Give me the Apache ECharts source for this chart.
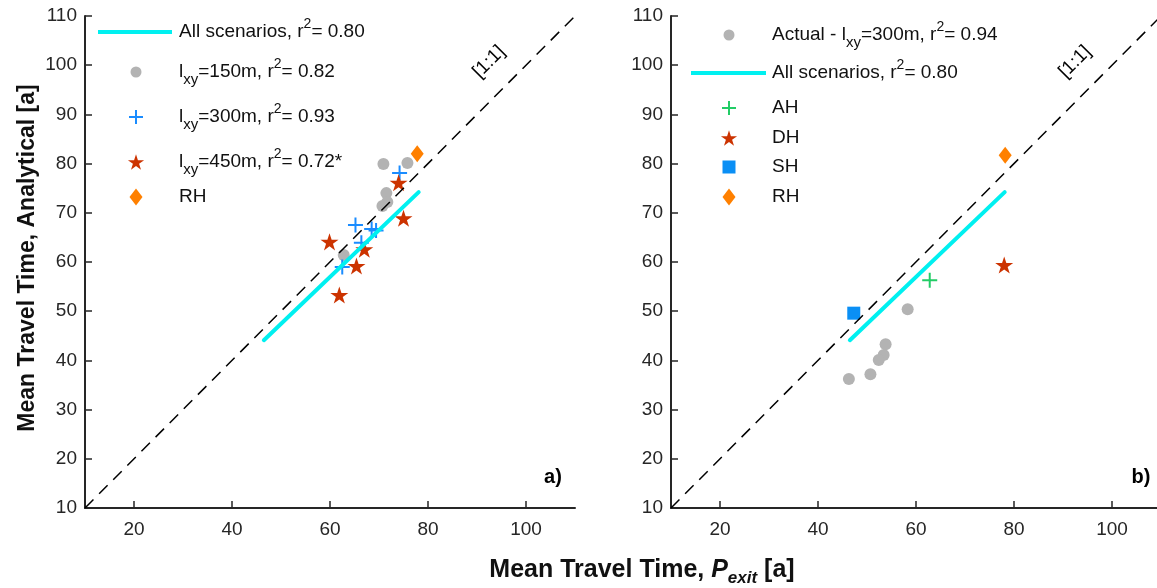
<!DOCTYPE html>
<html><head><meta charset="utf-8">
<script src="https://cdn.jsdelivr.net/npm/echarts@6/dist/echarts.min.js"></script>
<style>html,body{margin:0;padding:0;background:#fff}#c{width:1157px;height:588px}</style>
</head><body><div id="c"></div>
<script>
// ---- data ----
const xTicks = [20, 40, 60, 80, 100];
const identityLine = [[10, 10], [110, 110]];
const fitAll = [[46.5, 44.1], [78.1, 74.2]];
// panel a)
const ixy150 = [[70.9, 79.9], [75.8, 80.1], [71.5, 74.0], [71.7, 72.2], [70.7, 71.4], [62.8, 61.4]];
const ixy300 = [[65.2, 67.5], [68.5, 66.7], [69.4, 66.4], [66.4, 63.9], [62.5, 59.0], [74.2, 78.1]];
const ixy450 = [[74.0, 76.1], [75.0, 68.9], [59.9, 64.1], [67.0, 62.6], [65.4, 59.2], [61.9, 53.3]];
const rhA = [[77.8, 82.0]];
// panel b)
const actual300 = [[58.3, 50.4], [53.8, 43.3], [53.4, 41.1], [52.4, 40.1], [50.7, 37.2], [46.3, 36.2]];
const ahB = [[62.8, 56.3]];
const dhB = [[78.0, 59.4]];
const shB = [[47.3, 49.6]];
const rhB = [[78.2, 81.7]];

// legend texts
const legendA = ['All scenarios, r{sup|2}= 0.80', 'l{sub|xy}=150m, r{sup|2}= 0.82', 'l{sub|xy}=300m, r{sup|2}= 0.93', 'l{sub|xy}=450m, r{sup|2}= 0.72*', 'RH'];
const legendB = ['Actual - l{sub|xy}=300m, r{sup|2}= 0.94', 'All scenarios, r{sup|2}= 0.80', 'AH', 'DH', 'SH', 'RH'];

// ---- styles ----
const FONT = '"Liberation Sans", Arial, Helvetica, sans-serif';
const AX = '#262626';
const TXT = '#111';
const GRAY = '#b3b3b3';
const CYAN = '#00f0f0';
const BLUE = '#1a8cff';
const GREEN = '#22cc66';
const RED = '#cc3300';
const ORANGE = '#ff8000';
const SQBLUE = '#0a8ff5';
const CROSS = 'path://M0,5L10,5M5,0L5,10';
const STARPTS = [[50,0],[61.23,34.55],[97.55,34.55],[68.17,55.9],[79.39,90.45],[50,69.1],[20.61,90.45],[31.83,55.9],[2.45,34.55],[38.77,34.55]];
const STAR = 'path://M' + STARPTS.map(p => p.join(',')).join('L') + 'Z';
const SQUARE = 'path://M0,0L10,0L10,10L0,10Z';

function xAxisCfg(gi) {
  return { type: 'value', gridIndex: gi, min: 10, max: 110,
    axisLine: { show: true, onZero: false, lineStyle: { color: AX, width: 2 } },
    axisTick: { show: true, inside: true, length: 7, customValues: xTicks, lineStyle: { color: AX, width: 1.5 } },
    axisLabel: { customValues: xTicks, margin: 12, fontSize: 19, color: AX, fontFamily: FONT },
    splitLine: { show: false } };
}
function yAxisCfg(gi) {
  return { type: 'value', gridIndex: gi, min: 10, max: 110, interval: 10,
    axisLine: { show: true, onZero: false, lineStyle: { color: AX, width: 2 } },
    axisTick: { show: true, inside: true, length: 7, lineStyle: { color: AX, width: 1.5 } },
    axisLabel: { margin: 8, fontSize: 19, color: AX, fontFamily: FONT, showMinLabel: true, showMaxLabel: true },
    splitLine: { show: false } };
}
function scatter(name, gi, data, symbol, size, itemStyle, keep) {
  return { name: name, type: 'scatter', xAxisIndex: gi, yAxisIndex: gi, data: data,
    symbol: symbol, symbolSize: size, symbolKeepAspect: keep !== false, itemStyle: Object.assign({ opacity: 1 }, itemStyle), silent: true };
}
function line(name, gi, data, lineStyle) {
  return { name: name, type: 'line', xAxisIndex: gi, yAxisIndex: gi, data: data, symbol: 'none',
    lineStyle: lineStyle, silent: true };
}
const dashStyle = { color: '#000', width: 1.5, type: [12, 8] };
const fitStyle = { color: CYAN, width: 4, cap: 'round' };
const crossStyle = c => ({ color: 'rgba(0,0,0,0)', borderColor: c, borderWidth: 2 });

// ---- legend keys (graphic) ----
const RICH = {
  sub: { fontSize: 15, lineHeight: 15, padding: [16, 0, 0, 0], fontFamily: FONT, fill: TXT },
  sup: { fontSize: 14, lineHeight: 14, padding: [0, 0, 15, 0], fontFamily: FONT, fill: TXT }
};
function keyText(x, y, t) {
  return { type: 'text', x: x, y: y, silent: true,
    style: { text: t, fontSize: 19, fontFamily: FONT, fill: TXT, lineHeight: 30, rich: RICH,
      align: 'left', verticalAlign: 'middle', textAlign: 'left', textVerticalAlign: 'middle' } };
}
function keyLine(x1, x2, y) {
  return { type: 'line', silent: true, shape: { x1: x1, y1: y, x2: x2, y2: y }, style: { stroke: CYAN, lineWidth: 4 } };
}
function keyCircle(cx, cy, r, c) {
  return { type: 'circle', silent: true, shape: { cx: cx, cy: cy, r: r }, style: { fill: c } };
}
function keyCross(cx, cy, h, c) {
  return { type: 'group', silent: true, children: [
    { type: 'line', shape: { x1: cx - h, y1: cy, x2: cx + h, y2: cy }, style: { stroke: c, lineWidth: 2 } },
    { type: 'line', shape: { x1: cx, y1: cy - h, x2: cx, y2: cy + h }, style: { stroke: c, lineWidth: 2 } } ] };
}
function keyStar(cx, cy, s, c) {
  return { type: 'polygon', silent: true,
    shape: { points: STARPTS.map(p => [cx + (p[0] - 50) / 100 * s, cy + (p[1] - 45.2) / 100 * s]) }, style: { fill: c } };
}
function keyDiamond(cx, cy, w, h, c) {
  return { type: 'polygon', silent: true,
    shape: { points: [[cx, cy - h / 2], [cx + w / 2, cy], [cx, cy + h / 2], [cx - w / 2, cy]] }, style: { fill: c } };
}
function keySquare(cx, cy, s, c) {
  return { type: 'rect', silent: true, shape: { x: cx - s / 2, y: cy - s / 2, width: s, height: s }, style: { fill: c } };
}

const chart = echarts.init(document.getElementById('c'), null, { renderer: 'canvas' });
chart.setOption({
  animation: false,
  backgroundColor: '#fff',
  grid: [
    { left: 85, top: 16, width: 490, height: 492, outerBoundsMode: 'none' },
    { left: 671, top: 16, width: 490, height: 492, outerBoundsMode: 'none' }
  ],
  xAxis: [xAxisCfg(0), xAxisCfg(1)],
  yAxis: [yAxisCfg(0), yAxisCfg(1)],
  series: [
    scatter('l150', 0, ixy150, 'circle', 12, { color: GRAY }),
    line('id1', 0, identityLine, dashStyle),
    line('allA', 0, fitAll, fitStyle),
    scatter('l300', 0, ixy300, CROSS, 15, crossStyle(BLUE)),
    scatter('l450', 0, ixy450, STAR, 18, { color: RED }),
    scatter('rhA', 0, rhA, 'diamond', [13, 17], { color: ORANGE }, false),

    scatter('act', 1, actual300, 'circle', 12, { color: GRAY }),
    line('id2', 1, identityLine, dashStyle),
    line('allB', 1, fitAll, fitStyle),
    scatter('ah', 1, ahB, CROSS, 15, crossStyle(GREEN)),
    scatter('dh', 1, dhB, STAR, 18, { color: RED }),
    scatter('sh', 1, shB, SQUARE, 13, { color: SQBLUE }),
    scatter('rhB', 1, rhB, 'diamond', [13, 17], { color: ORANGE }, false)
  ],
  graphic: [
    // legend a)
    keyLine(98, 172, 32), keyText(179, 32, legendA[0]),
    keyCircle(136, 72, 5.5, GRAY), keyText(179, 72, legendA[1]),
    keyCross(136, 117, 7, BLUE), keyText(179, 117, legendA[2]),
    keyStar(136, 162, 17, RED), keyText(179, 162, legendA[3]),
    keyDiamond(136, 197, 13, 17, ORANGE), keyText(179, 197, legendA[4]),
    // legend b)
    keyCircle(729, 35, 5.5, GRAY), keyText(772, 35, legendB[0]),
    keyLine(691, 766, 73), keyText(772, 73, legendB[1]),
    keyCross(729, 108, 7, GREEN), keyText(772, 108, legendB[2]),
    keyStar(729, 138, 17, RED), keyText(772, 138, legendB[3]),
    keySquare(729, 167, 13, SQBLUE), keyText(772, 167, legendB[4]),
    keyDiamond(729, 197, 13, 17, ORANGE), keyText(772, 197, legendB[5]),
    // titles & annotations
    { type: 'text', x: 28, y: 258, rotation: Math.PI / 2, silent: true,
      style: { text: 'Mean Travel Time, Analytical [a]', fontSize: 23, fontWeight: 'bold', fontFamily: FONT,
        fill: TXT, align: 'center', verticalAlign: 'middle', textAlign: 'center', textVerticalAlign: 'middle' } },
    { type: 'text', x: 642, y: 570, silent: true,
      style: { text: '{b|Mean Travel Time, }{bi|P}{bs|exit}{b| [a]}', align: 'center', verticalAlign: 'middle',
        textAlign: 'center', textVerticalAlign: 'middle',
        rich: {
          b: { fontSize: 25, fontWeight: 'bold', fontFamily: FONT, fill: TXT, lineHeight: 30 },
          bi: { fontSize: 25, fontWeight: 'bold', fontStyle: 'italic', fontFamily: FONT, fill: TXT, lineHeight: 30 },
          bs: { fontSize: 17, fontWeight: 'bold', fontStyle: 'italic', fontFamily: FONT, fill: TXT, lineHeight: 17, padding: [17, 0, 0, 0] }
        } } },
    { type: 'text', x: 489, y: 62, rotation: Math.PI / 4, silent: true,
      style: { text: '[1:1]', fontSize: 19, fontFamily: FONT, fill: '#000', align: 'center', verticalAlign: 'middle', textAlign: 'center', textVerticalAlign: 'middle' } },
    { type: 'text', x: 1075, y: 62, rotation: Math.PI / 4, silent: true,
      style: { text: '[1:1]', fontSize: 19, fontFamily: FONT, fill: '#000', align: 'center', verticalAlign: 'middle', textAlign: 'center', textVerticalAlign: 'middle' } },
    { type: 'text', x: 553, y: 477, silent: true,
      style: { text: 'a)', fontSize: 20, fontWeight: 'bold', fontFamily: FONT, fill: '#000', align: 'center', verticalAlign: 'middle', textAlign: 'center', textVerticalAlign: 'middle' } },
    { type: 'text', x: 1141, y: 477, silent: true,
      style: { text: 'b)', fontSize: 20, fontWeight: 'bold', fontFamily: FONT, fill: '#000', align: 'center', verticalAlign: 'middle', textAlign: 'center', textVerticalAlign: 'middle' } }
  ]
});
</script>
</body></html>
